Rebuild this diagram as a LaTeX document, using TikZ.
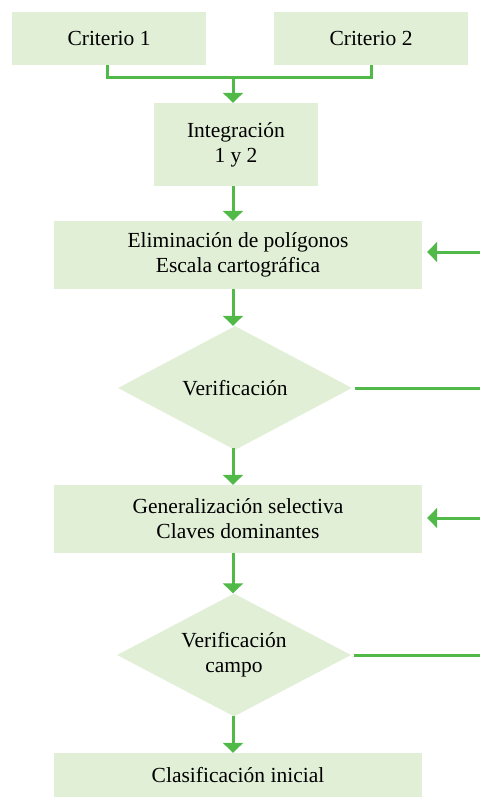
\documentclass[tikz,border=0pt]{standalone}
\usepackage{fontspec}
\setmainfont{Liberation Serif}
\usetikzlibrary{arrows.meta,shapes.geometric}
\definecolor{boxfill}{RGB}{226,239,215}
\definecolor{linegreen}{RGB}{80,185,72}
\begin{document}
\begin{tikzpicture}[x=1pt,y=-1pt,
  every node/.style={font=\fontsize{21.5}{25}\selectfont, inner sep=0pt, align=center},
  box/.style={rectangle, fill=boxfill},
  diam/.style={diamond, fill=boxfill, aspect=1.89},
  conn/.style={draw=linegreen, line width=3pt},
  arr/.style={conn, -{Triangle[width=20pt,length=10pt]}}]
\useasboundingbox (0,0) rectangle (480,798);
\coordinate (axis) at (233,0);
\coordinate (redge) at (480,0);
\node[box, minimum width=194pt, minimum height=53pt] (c1) at (109,38.5) {Criterio 1};
\node[box, minimum width=194pt, minimum height=53pt] (c2) at (371,38.5) {Criterio 2};
\node[box, minimum width=164pt, minimum height=83pt] (int) at (236,144.5) {Integración\\1 y 2};
\node[box, minimum width=368pt, minimum height=68pt] (elim) at (238,255) {Eliminación de polígonos\\Escala cartográfica};
\node[diam, minimum width=234pt, minimum height=124pt] (d1) at (235,388) {Verificación};
\node[box, minimum width=368pt, minimum height=68pt] (gen) at (238,519) {Generalización selectiva\\Claves dominantes};
\node[diam, minimum width=234pt, minimum height=123pt] (d2) at (234,655) {Verificación\\campo};
\node[box, minimum width=368pt, minimum height=44pt] (clas) at (238,775) {Clasificación inicial};
% merge connector
\coordinate (mid) at (233,77);
\draw[conn] ([xshift=-2pt]c1.south) |- (mid) -| (c2.south);
\draw[arr] (mid) -- (int.north -| axis);
% main flow
\draw[arr] (int.south -| axis) -- (elim.north -| axis);
\draw[arr] (elim.south -| axis) -- (d1.north -| axis);
\draw[arr] ([yshift=2pt]d1.south -| axis) -- (gen.north -| axis);
\draw[arr] (gen.south -| axis) -- (d2.north -| axis);
\draw[arr] ([yshift=1pt]d2.south -| axis) -- (clas.north -| axis);
% feedback lines
\coordinate (r1) at (480,252);
\coordinate (r2) at (480,518);
\draw[arr, shorten >=5pt] (r1) -- (elim.east |- r1);
\draw[arr, shorten >=5pt] (r2) -- (gen.east |- r2);
\draw[conn] ([xshift=3pt]d1.east) -- (d1.east -| redge);
\draw[conn] ([xshift=3pt]d2.east) -- (d2.east -| redge);
\end{tikzpicture}
\end{document}
